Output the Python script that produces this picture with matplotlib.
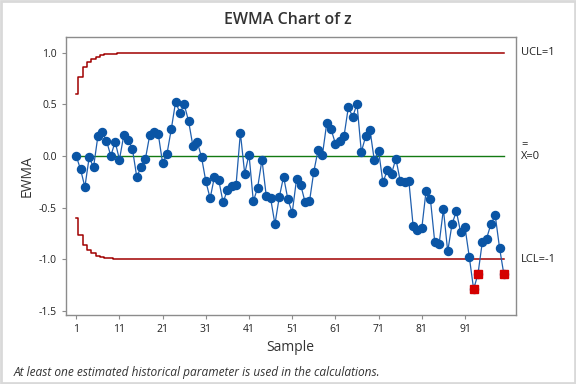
import matplotlib
matplotlib.use("Agg")
import matplotlib.pyplot as plt
from matplotlib.patches import Rectangle
import numpy as np

plt.rcParams['font.family'] = ['Open Sans', 'DejaVu Sans']
plt.rcParams['axes.unicode_minus'] = False

# ---- data ----
ewma = [0.0, -0.13, -0.30, -0.01, -0.11, 0.19, 0.23, 0.15, 0.0, 0.14,
        -0.035, 0.20, 0.16, 0.07, -0.20, -0.11, -0.03, 0.20, 0.235, 0.21,
        -0.07, 0.02, 0.26, 0.525, 0.42, 0.50, 0.34, 0.10, 0.14, -0.01,
        -0.245, -0.41, -0.20, -0.235, -0.45, -0.325, -0.29, -0.28, 0.225, -0.17,
        0.015, -0.44, -0.305, -0.035, -0.39, -0.41, -0.66, -0.40, -0.20, -0.42,
        -0.55, -0.225, -0.285, -0.45, -0.44, -0.15, 0.06, 0.015, 0.32, 0.26,
        0.12, 0.145, 0.195, 0.475, 0.38, 0.505, 0.04, 0.19, 0.255, -0.04,
        0.05, -0.255, -0.14, -0.17, -0.025, -0.24, -0.255, -0.24, -0.68, -0.72,
        -0.70, -0.335, -0.42, -0.835, -0.857, -0.515, -0.925, -0.66, -0.535, -0.74,
        -0.69, -0.98, -1.29, -1.146, -0.837, -0.80, -0.66, -0.575, -0.89, -1.146]
samples = list(range(1, len(ewma) + 1))

ucl_ramp = [0.60, 0.767, 0.86, 0.91, 0.94, 0.965, 0.978, 0.986, 0.991, 0.994, 0.996, 0.998]
ucl_steady = 1.0
center = 0.0
ucl = ucl_ramp + [ucl_steady] * (len(ewma) - len(ucl_ramp))
lcl = [-u for u in ucl]

xtick_vals = [1, 11, 21, 31, 41, 51, 61, 71, 81, 91]
ytick_vals = [-1.5, -1.0, -0.5, 0.0, 0.5, 1.0]
ytick_labels = ["-1.5", "-1.0", "-0.5", "0.0", "0.5", "1.0"]

# ---- figure ----
fig = plt.figure(figsize=(5.76, 3.84), dpi=100)
fig.patch.set_facecolor('white')
fig.patches.append(Rectangle((0.0015, 0.002), 0.997, 0.996, transform=fig.transFigure,
                             fill=False, edgecolor='#d9d9d9', linewidth=2.0))

ax = fig.add_axes([0.114, 0.180, 0.781, 0.723])

red_line = '#a00000'
ax.plot(samples, ucl, drawstyle='steps-mid', color=red_line, lw=1.1, zorder=2)
ax.plot(samples, lcl, drawstyle='steps-mid', color=red_line, lw=1.1, zorder=2)
ax.plot([samples[0], samples[-1]], [center, center], color='#137a13', lw=1.0, zorder=2)

ax.plot(samples, ewma, color='#1f5fae', lw=0.9, marker='o', markersize=5.8,
        markerfacecolor='#0a55a5', markeredgecolor='#0a55a5', zorder=3)

ewma_a = np.array(ewma)
ucl_a = np.array(ucl)
lcl_a = np.array(lcl)
out = (ewma_a < lcl_a) | (ewma_a > ucl_a)
s_a = np.array(samples)
ax.plot(s_a[out], ewma_a[out], linestyle='none', marker='s', markersize=5.2,
        markerfacecolor='#d40000', markeredgecolor='#d40000', zorder=4)

ax.set_xlim(-1.45, 102.7)
ax.set_ylim(-1.54, 1.152)
ax.set_xticks(xtick_vals)
ax.set_xticklabels([str(v) for v in xtick_vals])
ax.set_yticks(ytick_vals)
ax.set_yticklabels(ytick_labels)

for sp in ax.spines.values():
    sp.set_color('#8c8c8c')
    sp.set_linewidth(1.0)
ax.tick_params(axis='both', colors='#8c8c8c', labelcolor='#222222', labelsize=7.5,
               length=3, width=0.8, direction='out')

ax.set_xlabel('Sample', fontsize=10, color='#333333', labelpad=4, fontweight='medium')
ax.set_ylabel('EWMA', fontsize=10, color='#333333', labelpad=3, fontweight='medium')
fig.text(0.5, 0.947, 'EWMA Chart of z', ha='center', va='center', fontsize=11.5,
         color='#333333', fontweight='semibold')

# right-side labels
trans = ax.get_yaxis_transform()
ax.text(1.012, ucl_steady, 'UCL=1', transform=trans, fontsize=8, color='#222222', va='center', ha='left')
ax.text(1.012, -ucl_steady, 'LCL=-1', transform=trans, fontsize=8, color='#222222', va='center', ha='left')
ax.text(1.012, center, 'X=0', transform=trans, fontsize=8, color='#222222', va='center', ha='left')
ax.text(1.012, center + 0.115, '=', transform=trans, fontsize=8, color='#222222', va='center', ha='left')

fig.text(0.024, 0.031, 'At least one estimated historical parameter is used in the calculations.',
         fontsize=8.6, style='italic', color='#333333', ha='left', va='center')

fig.savefig('out.png', dpi=100)
